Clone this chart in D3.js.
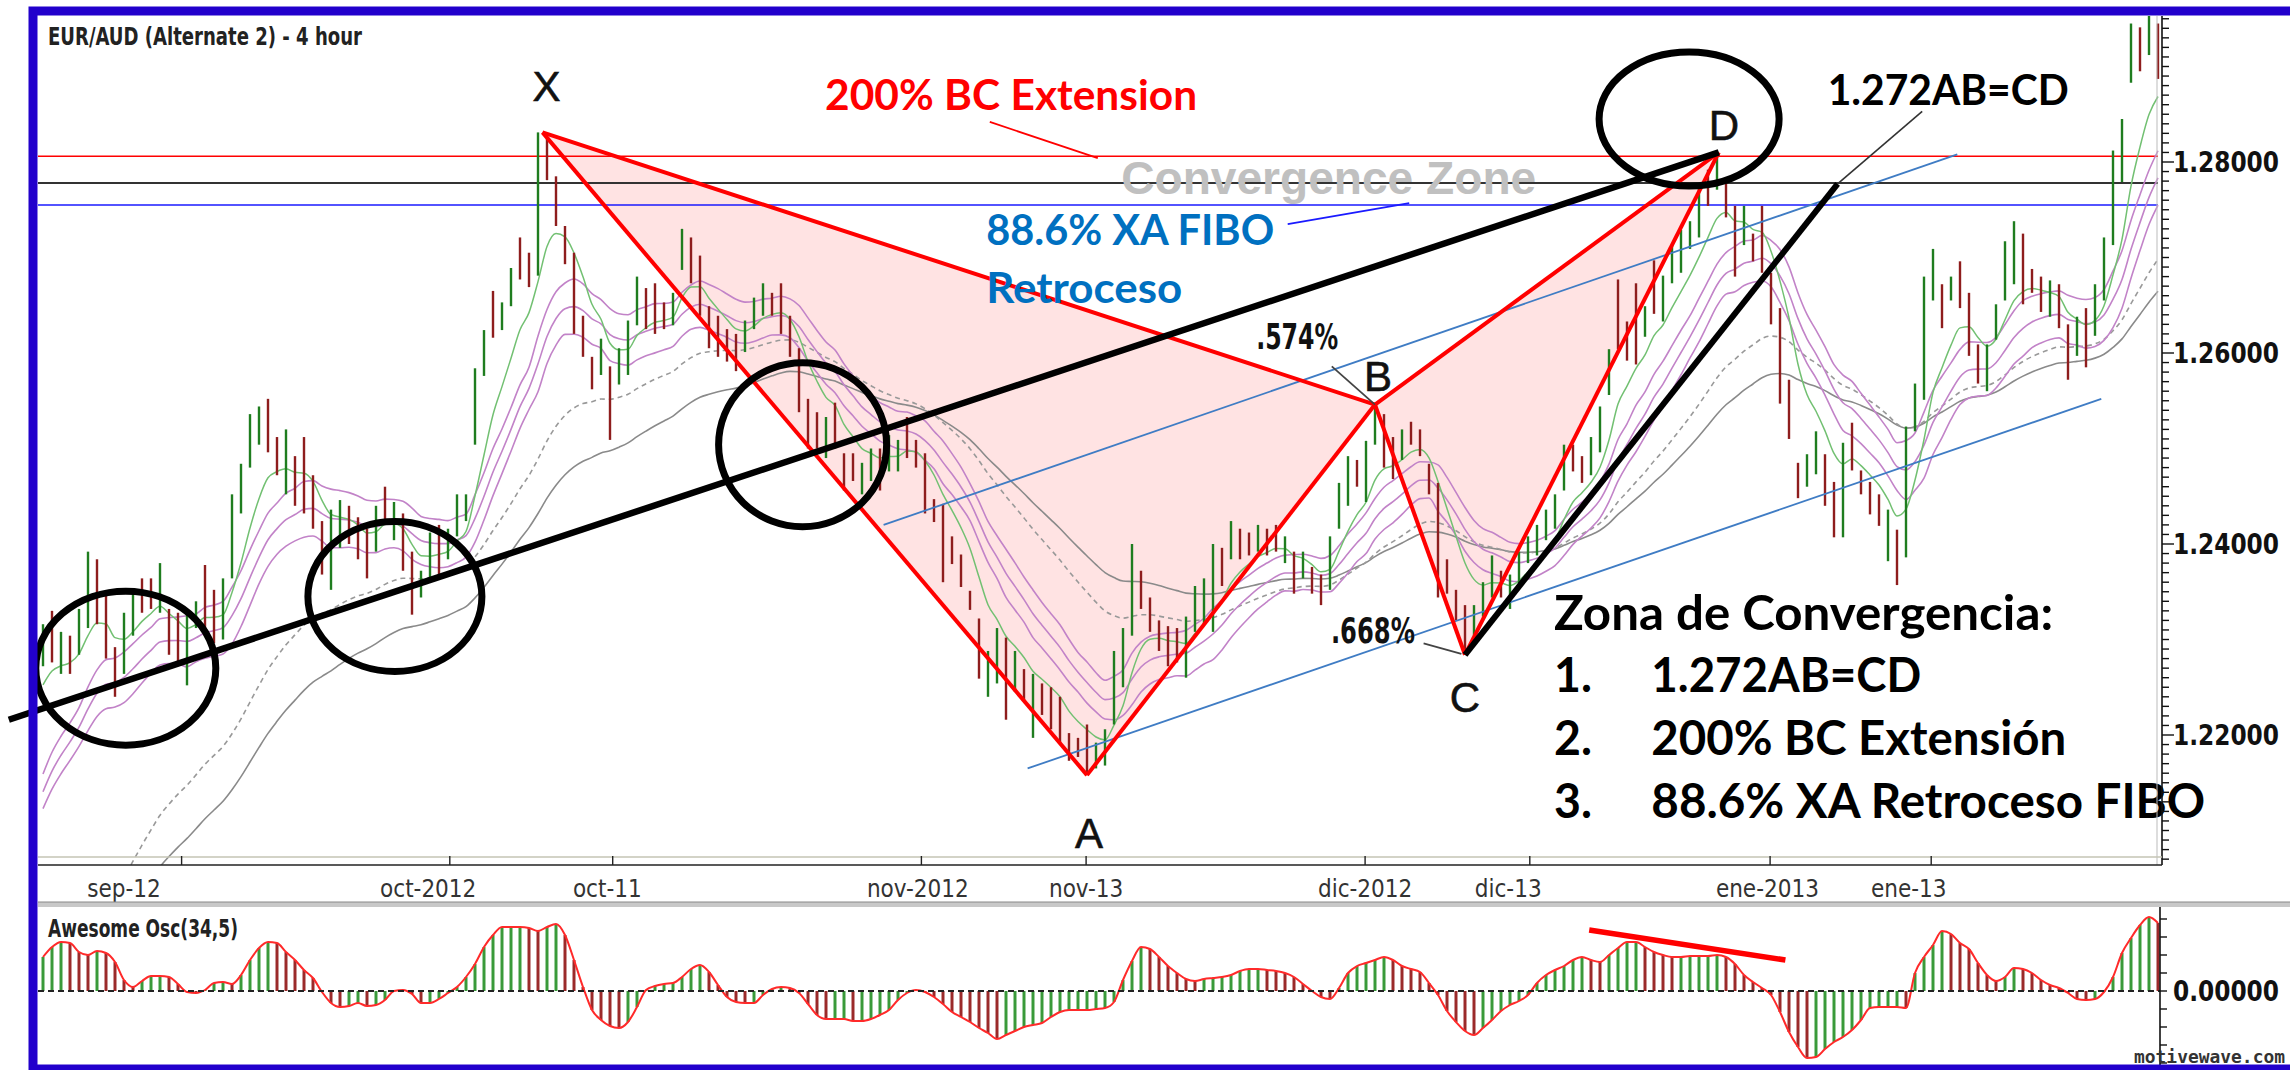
<!DOCTYPE html>
<html>
<head>
<meta charset="utf-8">
<script src="https://cdn.jsdelivr.net/npm/d3@7"></script>
<style>
  body { margin: 0; background: #fff; }
  svg { display: block; }
</style>
</head>
<body>
<div id="chart"></div>
<script>
// ---- data ----
const barHigh = [
  1.2316,1.2330,1.2308,1.2304,1.2332,1.2392,1.2384,1.2348,1.2292,1.2328,
  1.2352,1.2364,1.2364,1.2380,1.2332,1.2328,1.2332,1.2340,1.2378,1.2352,
  1.2364,1.2452,1.2484,1.2536,1.2544,1.2552,1.2512,1.2520,1.2492,1.2512,
  1.2472,1.2424,1.2436,1.2446,1.2440,1.2428,1.2416,1.2440,1.2460,1.2444,
  1.2432,1.2392,1.2372,1.2412,1.2420,1.2416,1.2452,1.2452,1.2584,1.2624,
  1.2665,1.2653,1.2689,1.2721,1.2705,1.2831,1.2825,1.2785,1.2733,1.2705,
  1.2639,1.2596,1.2615,1.2586,1.2605,1.2634,1.2680,1.2668,1.2673,1.2653,
  1.2663,1.2730,1.2721,1.2702,1.2649,1.2639,1.2625,1.2620,1.2634,1.2658,
  1.2673,1.2663,1.2673,1.2639,1.2605,1.2552,1.2538,1.2533,1.2548,1.2495,
  1.2495,1.2485,1.2500,1.2500,1.2514,1.2509,1.2533,1.2509,1.2495,1.2447,
  1.2442,1.2408,1.2389,1.2351,1.2322,1.2288,1.2312,1.2302,1.2288,1.2269,
  1.2264,1.2254,1.2250,1.2240,1.2202,1.2197,1.2211,1.2192,1.2206,1.2288,
  1.2312,1.2400,1.2372,1.2344,1.2320,1.2314,1.2312,1.2324,1.2356,1.2364,
  1.2400,1.2396,1.2424,1.2416,1.2412,1.2420,1.2416,1.2420,1.2408,1.2392,
  1.2392,1.2376,1.2368,1.2408,1.2464,1.2492,1.2488,1.2508,1.2546,1.2536,
  1.2512,1.2520,1.2528,1.2520,1.2484,1.2464,1.2384,1.2352,1.2336,1.2336,
  1.2360,1.2388,1.2372,1.2368,1.2392,1.2408,1.2420,1.2436,1.2452,1.2504,
  1.2504,1.2492,1.2512,1.2544,1.2604,1.2677,1.2633,1.2673,1.2649,1.2697,
  1.2681,1.2713,1.2729,1.2738,1.2775,1.2792,1.2810,1.2783,1.2754,1.2754,
  1.2725,1.2754,1.2684,1.2647,1.2572,1.2485,1.2494,1.2518,1.2494,1.2465,
  1.2506,1.2527,1.2477,1.2465,1.2452,1.2436,1.2415,1.2523,1.2568,1.2680,
  1.2709,1.2672,1.2680,1.2696,1.2663,1.2609,1.2609,1.2651,1.2717,1.2738,
  1.2725,1.2688,1.2680,1.2676,1.2672,1.2630,1.2638,1.2647,1.2672,1.2721,
  1.2812,1.2845,1.2945,1.2941,1.2957,1.2945
];
const barLow = [
  1.2272,1.2276,1.2264,1.2264,1.2284,1.2312,1.2316,1.2280,1.2240,1.2264,
  1.2304,1.2328,1.2332,1.2328,1.2284,1.2272,1.2252,1.2312,1.2304,1.2296,
  1.2300,1.2364,1.2432,1.2480,1.2504,1.2496,1.2472,1.2452,1.2440,1.2432,
  1.2416,1.2368,1.2352,1.2396,1.2400,1.2384,1.2364,1.2392,1.2420,1.2404,
  1.2372,1.2326,1.2344,1.2360,1.2368,1.2384,1.2408,1.2424,1.2504,1.2576,
  1.2616,1.2624,1.2649,1.2677,1.2669,1.2681,1.2781,1.2733,1.2693,1.2620,
  1.2596,1.2562,1.2577,1.2509,1.2567,1.2577,1.2629,1.2625,1.2620,1.2625,
  1.2629,1.2687,1.2673,1.2639,1.2605,1.2596,1.2591,1.2581,1.2601,1.2625,
  1.2639,1.2639,1.2620,1.2596,1.2538,1.2500,1.2500,1.2490,1.2500,1.2456,
  1.2466,1.2452,1.2466,1.2456,1.2476,1.2476,1.2490,1.2480,1.2432,1.2423,
  1.2360,1.2379,1.2355,1.2331,1.2259,1.2240,1.2254,1.2216,1.2245,1.2235,
  1.2197,1.2221,1.2206,1.2192,1.2173,1.2177,1.2158,1.2165,1.2168,1.2211,
  1.2250,1.2304,1.2332,1.2308,1.2288,1.2272,1.2276,1.2260,1.2308,1.2316,
  1.2308,1.2356,1.2384,1.2384,1.2388,1.2392,1.2388,1.2392,1.2380,1.2348,
  1.2364,1.2348,1.2336,1.2352,1.2416,1.2440,1.2460,1.2444,1.2504,1.2480,
  1.2468,1.2488,1.2504,1.2492,1.2452,1.2344,1.2348,1.2320,1.2284,1.2304,
  1.2324,1.2344,1.2344,1.2332,1.2356,1.2380,1.2388,1.2404,1.2416,1.2456,
  1.2476,1.2464,1.2472,1.2496,1.2556,1.2604,1.2592,1.2588,1.2617,1.2641,
  1.2633,1.2673,1.2684,1.2709,1.2721,1.2754,1.2771,1.2742,1.2680,1.2713,
  1.2696,1.2684,1.2630,1.2547,1.2510,1.2448,1.2460,1.2473,1.2440,1.2407,
  1.2407,1.2477,1.2452,1.2431,1.2419,1.2382,1.2357,1.2386,1.2518,1.2551,
  1.2655,1.2626,1.2655,1.2647,1.2597,1.2568,1.2560,1.2614,1.2655,1.2672,
  1.2651,1.2663,1.2643,1.2638,1.2626,1.2572,1.2597,1.2585,1.2618,1.2655,
  1.2713,1.2779,1.2883,1.2895,1.2912,1.2887
];
// u = up bar (green), d = down bar (red)
const barDir = "ududuudddu" + "uddudduudd" + "uuuuuddudd" + "dduudddudu" + "dduuduuuuu" +
               "duuddudddd" + "dduduuuddd" + "uudddddduu" + "uddddddudd" + "duuduudddd" +
               "ddddduudud" + "udddddduuu" + "uuddddduuu" + "ududduddud" + "udduuuduud" +
               "dudddddddu" + "uuduuuuuuu" + "dduuudddud" + "uuuuududdu" + "dddddduudd" +
               "udddduduuu" + "ududdduuuu" + "dddudduduu" + "uuudud";

// Awesome Oscillator, in pips
const aoPips = [
  68,88,98,96,78,72,80,76,58,22, 8,20,30,30,28,14,-2,-4,2,16,
  18,14,32,62,86,98,96,78,62,42, 26,-2,-24,-32,-30,-24,-30,-28,-18,0,
  2,-6,-24,-24,-16,-4,8,28,54,88, 112,128,128,128,126,120,128,134,112,62,
  8,-38,-58,-70,-74,-62,-32,2,10,14, 16,28,44,52,38,12,-12,-22,-24,-24,
  -8,4,8,6,-4,-26,-48,-56,-56,-56, -60,-60,-56,-48,-38,-18,-4,2,-2,-12,
  -26,-42,-52,-62,-74,-84,-96,-88,-80,-72, -68,-64,-52,-42,-38,-38,-38,-36,-34,-22,
  22,60,88,84,68,50,36,24,20,24, 26,28,32,40,44,44,42,40,36,28,
  14,0,-12,-16,6,36,50,56,62,68, 62,50,44,38,16,-8,-40,-62,-80,-88,
  -74,-58,-40,-28,-20,-8,16,32,42,50, 62,68,62,58,72,86,98,98,88,78,
  72,68,68,70,70,70,72,68,54,32, 18,6,-8,-42,-82,-112,-134,-132,-116,-102,
  -92,-78,-58,-34,-32,-32,-32,-34,36,68, 92,120,114,96,84,56,32,20,28,46,
  44,36,22,12,6,-4,-16,-18,-16,-2, 28,76,106,132,148,136
];

const priceLabels = [1.22, 1.24, 1.26, 1.28];
const dateLabels = ["sep-12", "oct-2012", "oct-11", "nov-2012", "nov-13", "dic-2012", "dic-13", "ene-2013", "ene-13"];
const dateTickBars = [15.4, 45.2, 63.3, 97.6, 115.9, 146.9, 165.2, 191.9, 209.8];
const dateLabelBars = [9.0, 42.8, 62.7, 97.2, 115.9, 146.9, 162.8, 191.6, 207.3];

// harmonic pattern points (bar index, price)
const patternNames = ["X", "A", "B", "C", "D"];
const patternBars = [55.5, 116, 148, 158, 186.2];
const patternPrices = [1.2831, 1.2158, 1.2546, 1.2284, 1.2810];

// convergence levels: 200% BC ext, 1.272 AB=CD, 88.6% XA
const levelPrices = [1.2806, 1.2778, 1.2755];

// hand-drawn lines: [[bar, price], [bar, price]]
const trendLine = [[-3.8, 1.2216], [186.2, 1.2810]];
const cdLine = [[158, 1.2284], [199.4, 1.2777]];
const cdLeader = [[199.4, 1.2777], [208.8, 1.2853]];
const channelUpper = [[93.4, 1.2420], [212.7, 1.2808]];
const channelLower = [[109.4, 1.2165], [228.7, 1.2552]];
const aoDivergence = [[171.8, 122], [193.6, 62]];

// circles: centre bar, centre price
const circleBars = [9.2, 39.1, 84.4, 182.9];
const circlePrices = [1.2270, 1.2345, 1.2504, 1.2845];

// callout texts anchored at (bar, price) of their left baseline
const noteTexts = ["200% BC Extension", "Convergence Zone", "88.6% XA FIBO", "Retroceso",
  ".574%", ".668%", "1.272AB=CD", "Zona de Convergencia:", "1.", "1.272AB=CD",
  "2.", "200% BC Extensión", "3.", "88.6% XA Retroceso FIBO"];
const noteBars = [86.9, 119.8, 104.8, 104.8, 134.8, 143.1, 198.3, 167.9, 167.9, 178.7, 167.9, 178.7, 167.9, 178.7];
const notePrices = [1.2854, 1.2766, 1.2713, 1.2652, 1.2604, 1.2296, 1.2860, 1.2310, 1.2245, 1.2245, 1.2179, 1.2179, 1.2113, 1.2113];
const pointerLines = [
  [[105.2, 1.2842], [117.2, 1.2804]],
  [[138.3, 1.2735], [151.8, 1.2757]],
  [[143.2, 1.2586], [148, 1.2546]],
  [[153.4, 1.2296], [157.6, 1.2285]]
];

// ---- drawing ----
const W = 2290, H = 1070;
const NARROW = "'Liberation Sans Narrow','DejaVu Sans Condensed','Liberation Sans',sans-serif";
const CALIBRI = "Lato,'Open Sans',sans-serif";
const ARIAL = "'Liberation Sans',Arial,sans-serif";
const GREEN = "#1f7d1f", RED = "#8e1d1d";

const svg = d3.select("#chart").append("svg").attr("width", W).attr("height", H);
svg.append("rect").attr("width", W).attr("height", H).attr("fill", "#fff");

const x = d3.scaleLinear().domain([0, barHigh.length - 1]).range([43, 2158]);
const y = d3.scaleLinear().domain([1.22, 1.28]).range([735, 162]);
const yAO = d3.scaleLinear().domain([-150, 150]).range([1066, 916]);
const P = d => [x(d[0]), y(d[1])];
const line = d3.line();

svg.append("clipPath").attr("id", "pclip").append("rect")
  .attr("x", 38).attr("y", 16).attr("width", 2124).attr("height", 849);
const gp = svg.append("g").attr("clip-path", "url(#pclip)");

const pts = patternNames.map((n, k) => [x(patternBars[k]), y(patternPrices[k])]);

// pink triangles XAB and BCD
[[0, 1, 2], [2, 3, 4]].forEach(t => {
  gp.append("path").attr("d", line(t.map(k => pts[k])) + "Z")
    .attr("fill", "#ff0000").attr("fill-opacity", 0.11);
});

// horizontal levels
const levelColors = ["#ff0000", "#333", "#1a1aff"];
levelPrices.forEach((p, k) => {
  gp.append("line").attr("x1", 38).attr("x2", 2158)
    .attr("y1", y(p)).attr("y2", y(p))
    .attr("stroke", levelColors[k]).attr("stroke-width", k === 1 ? 2 : 1.6);
});

// moving averages computed from the bars
const mids = barHigh.map((h, i) => (h + barLow[i]) / 2);
function ema(vals, n, seed) {
  const k = 2 / (n + 1);
  let prev = seed;
  return vals.map(v => (prev = prev + k * (v - prev)));
}
const maLine = d3.line().x((d, i) => x(i)).y(d => y(d)).curve(d3.curveMonotoneX);
gp.append("path").attr("d", maLine(ema(mids, 45, 1.184)))
  .attr("fill", "none").attr("stroke", "#8a8a8a").attr("stroke-width", 1.6);
gp.append("path").attr("d", maLine(ema(mids, 32, 1.183)))
  .attr("fill", "none").attr("stroke", "#999").attr("stroke-width", 1.6).attr("stroke-dasharray", "5,4");
[[barHigh, 1.2135], [mids, 1.2117], [barLow, 1.2100]].forEach(s => {
  gp.append("path").attr("d", maLine(ema(s[0], 14, s[1])))
    .attr("fill", "none").attr("stroke", "#c283c8").attr("stroke-width", 1.6);
});
gp.append("path").attr("d", maLine(ema(mids, 6, 1.2236)))
  .attr("fill", "none").attr("stroke", "#72c072").attr("stroke-width", 1.5);

// price bars
gp.selectAll(".bar").data(barHigh).join("line")
  .attr("class", "bar")
  .attr("x1", (d, i) => x(i)).attr("x2", (d, i) => x(i))
  .attr("y1", d => y(d)).attr("y2", (d, i) => y(barLow[i]))
  .attr("stroke", (d, i) => barDir[i] === "u" ? GREEN : RED)
  .attr("stroke-width", 2.4);

// channel lines
[channelUpper, channelLower].forEach(c => {
  svg.append("path").attr("d", line(c.map(P)))
    .attr("stroke", "#3f7cc4").attr("stroke-width", 1.8).attr("fill", "none");
});

// red pattern legs
[[0, 1], [1, 2], [0, 2], [2, 3], [3, 4], [2, 4]].forEach(s => {
  svg.append("path").attr("d", line([pts[s[0]], pts[s[1]]]))
    .attr("stroke", "#ff0000").attr("stroke-width", 4).attr("fill", "none")
    .attr("stroke-linejoin", "round");
});

// black trend lines
svg.append("path").attr("d", line(trendLine.map(P))).attr("stroke", "#000").attr("stroke-width", 6.5);
svg.append("path").attr("d", line(cdLine.map(P))).attr("stroke", "#000").attr("stroke-width", 6);
svg.append("path").attr("d", line(cdLeader.map(P))).attr("stroke", "#333").attr("stroke-width", 1.6);

// circles
const circleRx = [90, 87, 84, 90], circleRy = [77, 75, 82, 67];
circleBars.forEach((b, k) => {
  svg.append("ellipse").attr("cx", x(b)).attr("cy", y(circlePrices[k]))
    .attr("rx", circleRx[k]).attr("ry", circleRy[k])
    .attr("fill", "none").attr("stroke", "#000").attr("stroke-width", 7);
});

// pointers
const pointerColors = ["#ff0000", "#1a1aff", "#444", "#444"];
pointerLines.forEach((pl, k) => {
  svg.append("path").attr("d", line(pl.map(P)))
    .attr("stroke", pointerColors[k]).attr("stroke-width", 1.8);
});

// pattern letters
const letterDx = [4, 2, 3, 0, 5], letterDy = [-31, 73, -14, 57, -12];
patternNames.forEach((n, k) => {
  svg.append("text").attr("x", pts[k][0] + letterDx[k]).attr("y", pts[k][1] + letterDy[k])
    .attr("text-anchor", "middle").attr("font-family", ARIAL).attr("font-size", 42)
    .attr("fill", "#111").attr("stroke", "#111").attr("stroke-width", 0.6).text(n);
});

// callouts
const noteStyle = {
  red:   {font: CALIBRI, size: 42, weight: 700, fill: "#ff0000"},
  grey:  {font: ARIAL, size: 46, weight: 700, fill: "#c0c0c0"},
  blue:  {font: CALIBRI, size: 42, weight: 700, fill: "#0070c0"},
  ratio: {font: NARROW, size: 35, weight: 700, fill: "#111"},
  black: {font: CALIBRI, size: 42, weight: 700, fill: "#000"},
  list:  {font: CALIBRI, size: 48, weight: 700, fill: "#000"}
};
const noteKind = ["red", "grey", "blue", "blue", "ratio", "ratio", "black", "list", "list", "list", "list", "list", "list", "list"];
const noteWidth = [372, 415, 288, 196, 82, 84, 241, 499, 38, 270, 38, 415, 38, 554];
noteTexts.forEach((t, k) => {
  const s = noteStyle[noteKind[k]];
  svg.append("text").attr("x", x(noteBars[k])).attr("y", y(notePrices[k]))
    .attr("font-family", s.font).attr("font-size", s.size).attr("font-weight", s.weight)
    .attr("fill", s.fill)
    .attr("textLength", noteWidth[k]).attr("lengthAdjust", "spacingAndGlyphs")
    .text(t);
});

// title
svg.append("text").attr("x", 48).attr("y", 45)
  .attr("font-family", NARROW).attr("font-size", 25).attr("font-weight", 700).attr("fill", "#222")
  .attr("textLength", 314).attr("lengthAdjust", "spacingAndGlyphs")
  .text("EUR/AUD (Alternate 2) - 4 hour");

// price axis
svg.append("line").attr("x1", 2157).attr("x2", 2157).attr("y1", 16).attr("y2", 865).attr("stroke", "#bbb");
svg.append("line").attr("x1", 2162).attr("x2", 2162).attr("y1", 16).attr("y2", 865).attr("stroke", "#111").attr("stroke-width", 1.6);
d3.range(1207, 1296).forEach(v => {
  const major = v % 20 === 0;
  svg.append("line").attr("x1", 2162).attr("x2", major ? 2174 : 2169)
    .attr("y1", y(v / 1000)).attr("y2", y(v / 1000))
    .attr("stroke", "#111").attr("stroke-width", 1.4);
});
priceLabels.forEach(p => {
  svg.append("text").attr("x", 2173).attr("y", y(p) + 10)
    .attr("font-family", NARROW).attr("font-size", 28).attr("font-weight", 700).attr("fill", "#111")
    .attr("textLength", 106).attr("lengthAdjust", "spacingAndGlyphs")
    .text(d3.format(".5f")(p));
});

// time axis
svg.append("line").attr("x1", 38).attr("x2", 2162).attr("y1", 857).attr("y2", 857).attr("stroke", "#c4c4b4").attr("stroke-width", 1.5);
svg.append("line").attr("x1", 38).attr("x2", 2162).attr("y1", 865).attr("y2", 865).attr("stroke", "#222").attr("stroke-width", 1.6);
dateTickBars.forEach(b => {
  svg.append("line").attr("x1", x(b)).attr("x2", x(b)).attr("y1", 856).attr("y2", 865)
    .attr("stroke", "#222").attr("stroke-width", 1.4);
});
dateLabelBars.forEach((b, k) => {
  svg.append("text").attr("x", x(b)).attr("y", 897).attr("text-anchor", "middle")
    .attr("font-family", NARROW).attr("font-size", 24).attr("fill", "#333")
    .text(dateLabels[k]);
});

// panel separator
svg.append("rect").attr("x", 38).attr("y", 902).attr("width", 2260).attr("height", 5).attr("fill", "#c8c8c8");
svg.append("line").attr("x1", 38).attr("x2", 2300).attr("y1", 902).attr("y2", 902).attr("stroke", "#888");

// Awesome oscillator
const ga = svg.append("g");
ga.selectAll(".ao").data(aoPips).join("line")
  .attr("class", "ao")
  .attr("x1", (d, i) => x(i)).attr("x2", (d, i) => x(i))
  .attr("y1", yAO(0)).attr("y2", d => yAO(d))
  .attr("stroke", (d, i) => (i > 0 && d < aoPips[i - 1]) ? "#9b2a2a" : "#3a9a3a")
  .attr("stroke-width", 3);
ga.append("path")
  .attr("d", d3.line().x((d, i) => x(i)).y(d => yAO(d)).curve(d3.curveMonotoneX)(aoPips))
  .attr("fill", "none").attr("stroke", "#ff2a2a").attr("stroke-width", 2);
ga.append("line").attr("x1", 38).attr("x2", 2160).attr("y1", yAO(0)).attr("y2", yAO(0))
  .attr("stroke", "#222").attr("stroke-width", 2).attr("stroke-dasharray", "6,4");
ga.append("path").attr("d", line(aoDivergence.map(d => [x(d[0]), yAO(d[1])])))
  .attr("stroke", "#ff0000").attr("stroke-width", 5.5);
ga.append("text").attr("x", 48).attr("y", 937)
  .attr("font-family", NARROW).attr("font-size", 24).attr("font-weight", 700).attr("fill", "#222")
  .attr("textLength", 190).attr("lengthAdjust", "spacingAndGlyphs")
  .text("Awesome Osc(34,5)");

ga.append("line").attr("x1", 2160).attr("x2", 2160).attr("y1", 907).attr("y2", 1066).attr("stroke", "#111").attr("stroke-width", 1.6);
d3.range(-144, 145, 36).forEach(v => {
  ga.append("line").attr("x1", 2160).attr("x2", 2167).attr("y1", yAO(v)).attr("y2", yAO(v))
    .attr("stroke", "#111").attr("stroke-width", 1.4);
});
ga.append("text").attr("x", 2173).attr("y", yAO(0) + 10)
  .attr("font-family", NARROW).attr("font-size", 28).attr("font-weight", 700).attr("fill", "#111")
  .attr("textLength", 106).attr("lengthAdjust", "spacingAndGlyphs")
  .text("0.00000");
ga.append("text").attr("x", 2134).attr("y", 1063)
  .attr("font-family", "'DejaVu Sans Mono',monospace").attr("font-size", 17).attr("font-weight", 700).attr("fill", "#333")
  .attr("textLength", 151).attr("lengthAdjust", "spacingAndGlyphs")
  .text("motivewave.com");

// blue frame
svg.append("rect").attr("x", 33).attr("y", 11).attr("width", 2300).attr("height", 1058)
  .attr("fill", "none").attr("stroke", "#2200cc").attr("stroke-width", 9);
</script>
</body>
</html>
